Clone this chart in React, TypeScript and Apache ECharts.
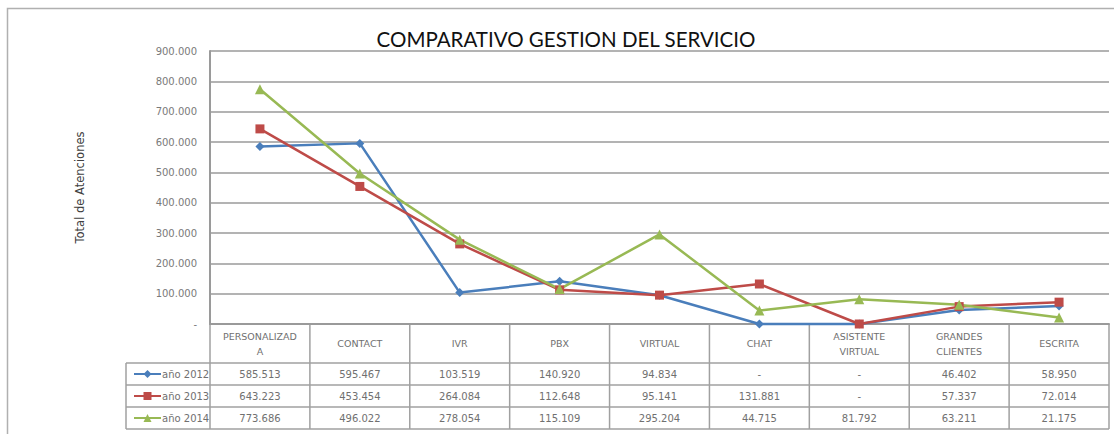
import React, { useEffect, useRef } from "react";
import * as echarts from "echarts";

const title = "COMPARATIVO GESTION DEL SERVICIO";
const yAxisName = "Total de Atenciones";
const categories = [
  "PERSONALIZAD\nA",
  "CONTACT",
  "IVR",
  "PBX",
  "VIRTUAL",
  "CHAT",
  "ASISTENTE\nVIRTUAL",
  "GRANDES\nCLIENTES",
  "ESCRITA",
];
const seriesNames = ["año 2012", "año 2013", "año 2014"];
const y2012 = [585513, 595467, 103519, 140920, 94834, 0, 0, 46402, 58950];
const y2013 = [643223, 453454, 264084, 112648, 95141, 131881, 0, 57337, 72014];
const y2014 = [773686, 496022, 278054, 115109, 295204, 44715, 81792, 63211, 21175];
const yMin = 0;
const yMax = 900000;
const yStep = 100000;

const colors = ["#4a7ebb", "#be4b48", "#98b954"];
const symbols = ["diamond", "rect", "triangle"];
const symbolSizes = [9, 9, 10];

const FONT = "Lato, 'Open Sans', sans-serif";
const SMALL = "'DejaVu Sans', sans-serif";
const W = 1114;
const H = 434;
const gridLeft = 210;
const gridRight = 1109;
const gridTop = 51;
const gridBottomY = 324;
const rowH = 22;
const headerBottom = 363;

const fmt = (n: number) =>
  n === 0 ? "-" : String(n).replace(/\B(?=(\d{3})+(?!\d))/g, ".");

export default function App() {
  const ref = useRef<HTMLDivElement>(null);
  useEffect(() => {
    if (!ref.current) return;
    const chart = echarts.init(ref.current, null, { renderer: "svg" });
    const data = [y2012, y2013, y2014];
    const colW = (gridRight - gridLeft) / categories.length;
    const lineStyle = { stroke: "#a0a0a0", lineWidth: 1.5 };
    const graphics: any[] = [];
    graphics.push({
      type: "rect",
      shape: { x: 7.5, y: 8.5, width: 1200, height: 500 },
      style: { fill: "none", stroke: "#b0b0b0", lineWidth: 1.5 },
      silent: true,
    });
    for (let i = 0; i <= categories.length; i++) {
      const x = gridLeft + i * colW;
      graphics.push({
        type: "line",
        shape: { x1: x, y1: gridBottomY, x2: x, y2: headerBottom + 3 * rowH },
        style: lineStyle,
        silent: true,
      });
    }
    graphics.push({
      type: "line",
      shape: { x1: 126, y1: headerBottom, x2: 126, y2: headerBottom + 3 * rowH },
      style: lineStyle,
      silent: true,
    });
    for (let r = 0; r <= 3; r++) {
      const y = headerBottom + r * rowH;
      graphics.push({
        type: "line",
        shape: { x1: 126, y1: y, x2: gridRight, y2: y },
        style: lineStyle,
        silent: true,
      });
    }
    categories.forEach((c, i) => {
      graphics.push({
        type: "text",
        x: gridLeft + (i + 0.5) * colW,
        y: (gridBottomY + headerBottom) / 2,
        style: {
          text: c,
          fill: "#707070",
          font: `9.5px ${SMALL}`,
          align: "center",
          verticalAlign: "middle",
          lineHeight: 15,
        },
        silent: true,
      });
    });
    data.forEach((arr, r) => {
      arr.forEach((v, i) => {
        graphics.push({
          type: "text",
          x: gridLeft + (i + 0.5) * colW,
          y: headerBottom + (r + 0.5) * rowH,
          style: {
            text: fmt(v),
            fill: "#707070",
            font: `10px ${SMALL}`,
            align: "center",
            verticalAlign: "middle",
          },
          silent: true,
        });
      });
    });

    chart.setOption({
      animation: false,
      color: colors,
      textStyle: { fontFamily: SMALL },
      title: {
        text: title,
        left: 561,
        top: 23,
        textAlign: "center",
        textStyle: { fontSize: 20.5, fontWeight: "normal", color: "#111", fontFamily: FONT },
      },
      legend: {
        orient: "vertical",
        left: 128,
        top: headerBottom + 0,
        itemGap: 10,
        itemWidth: 27,
        itemHeight: 10,
        selectedMode: false,
        textStyle: { fontSize: 10, color: "#707070", lineHeight: 12, padding: [0, 0, 0, -4], fontFamily: SMALL },
        data: seriesNames,
      },
      grid: {
        left: gridLeft,
        right: W - gridRight,
        top: gridTop,
        bottom: H - gridBottomY,
      },
      xAxis: {
        type: "category",
        data: categories,
        boundaryGap: true,
        axisLine: { lineStyle: { color: "#9a9a9a", width: 2 } },
        axisTick: { show: false },
        axisLabel: { show: false },
      },
      yAxis: {
        type: "value",
        min: yMin,
        max: yMax,
        interval: yStep,
        name: yAxisName,
        nameLocation: "middle",
        nameRotate: 90,
        nameGap: 124,
        nameTextStyle: { fontSize: 11.5, color: "#404040", fontFamily: SMALL },
        axisLine: { show: true, lineStyle: { color: "#9a9a9a", width: 2 } },
        axisTick: { show: false },
        axisLabel: {
          formatter: (v: number) => fmt(v),
          fontSize: 10,
          color: "#7a7a7a",
          margin: 13,
          fontFamily: SMALL,
        },
        splitLine: { lineStyle: { color: "#9a9a9a", width: 1.5 } },
      },
      series: data.map((arr, i) => ({
        name: seriesNames[i],
        type: "line",
        data: arr,
        symbol: symbols[i],
        symbolSize: symbolSizes[i],
        showAllSymbol: true,
        clip: false,
        lineStyle: { width: 2.5, color: colors[i] },
        itemStyle: { color: colors[i] },
      })),
      graphic: graphics,
    });
    return () => chart.dispose();
  }, []);
  return (
    <div
      ref={ref}
      style={{ position: "fixed", left: 0, top: 0, width: W, height: H, background: "#fff" }}
    />
  );
}
